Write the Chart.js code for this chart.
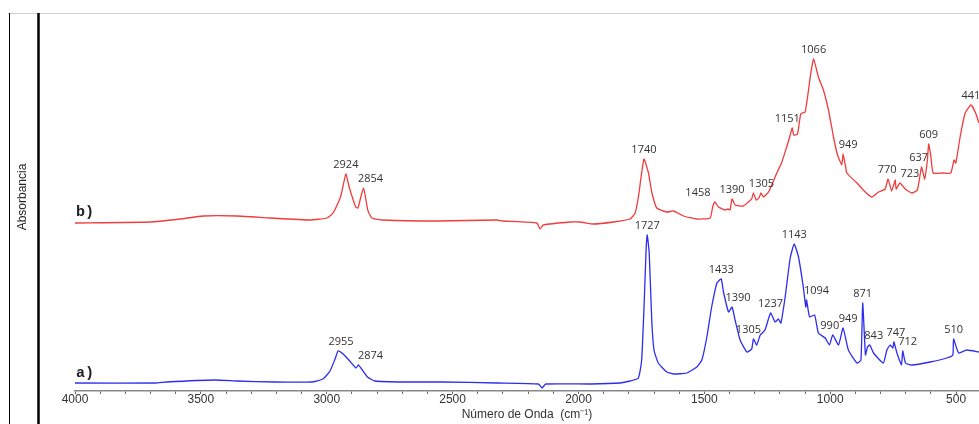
<!DOCTYPE html>
<html>
<head>
<meta charset="utf-8">
<script src="https://cdn.jsdelivr.net/npm/chart.js@4.4.1/dist/chart.umd.min.js"></script>
<style>
  html, body { margin: 0; padding: 0; background: #fff; }
  #wrap { width: 979px; height: 424px; }
</style>
</head>
<body>
<div id="wrap"><canvas id="myChart" width="979" height="424"></canvas></div>
<script>
// spectrum b) (red, upper trace) - wavenumber / absorbance (arbitrary, offset)
const wnB = [4000,3702,3583,3491,3356,3225,3066,2999,2975,2950,2941,2924,2911,2885,2876,2854,2837,2821,2776,2563,2325,2300,2166,2153,2140,2033,1994,1941,1861,1795,1775,1762,1740,1722,1709,1689,1649,1623,1583,1530,1477,1467,1458,1444,1418,1405,1398,1390,1378,1345,1325,1312,1305,1294,1283,1275,1265,1245,1212,1192,1173,1162,1151,1145,1130,1117,1100,1090,1077,1066,1047,1027,1007,987,971,954,949,940,934,894,861,835,808,782,770,756,742,738,723,702,676,654,643,637,625,614,609,600,591,553,521,508,501,484,464,441,424,409];
const absB = [1.68,1.69,1.72,1.75,1.75,1.73,1.71,1.73,1.78,1.91,1.98,2.17,2.04,1.84,1.83,2.03,1.81,1.73,1.71,1.70,1.71,1.70,1.68,1.62,1.66,1.69,1.69,1.67,1.69,1.72,1.78,1.94,2.32,2.18,1.99,1.83,1.79,1.80,1.75,1.72,1.73,1.84,1.89,1.84,1.81,1.82,1.81,1.92,1.86,1.85,1.89,1.92,1.98,1.91,1.93,1.98,1.94,1.99,2.18,2.29,2.44,2.53,2.63,2.56,2.57,2.77,2.79,2.94,3.18,3.32,3.14,3.01,2.81,2.54,2.36,2.26,2.37,2.26,2.18,2.08,1.99,1.94,1.99,2.02,2.12,2.00,2.11,2.02,2.08,2.02,1.98,2.01,2.16,2.24,2.12,2.31,2.47,2.34,2.18,2.18,2.18,2.31,2.28,2.54,2.78,2.86,2.79,2.68];
const peaksB = ['2924','2854','1740','1458','1390','1305','1151','1066','949','770','723','637','609','441'];

// spectrum a) (blue, lower trace)
const wnA = [4000,3680,3636,3444,3356,3207,3060,3015,2987,2967,2955,2935,2912,2884,2874,2838,2809,2690,2543,2322,2159,2145,2130,1952,1835,1795,1762,1749,1739,1731,1727,1719,1709,1700,1683,1649,1623,1570,1530,1510,1490,1471,1450,1433,1424,1404,1390,1378,1358,1331,1312,1305,1292,1278,1259,1237,1219,1206,1196,1179,1159,1143,1126,1107,1097,1094,1082,1062,1047,1020,1003,990,967,949,928,894,878,871,860,852,843,828,789,775,762,751,747,735,717,712,701,676,603,537,513,510,490,458,409];
const absA = [0.08,0.08,0.09,0.11,0.10,0.09,0.09,0.12,0.20,0.32,0.40,0.37,0.31,0.23,0.26,0.14,0.10,0.09,0.09,0.08,0.07,0.03,0.07,0.07,0.08,0.10,0.13,0.31,0.88,1.44,1.56,1.38,0.71,0.41,0.28,0.19,0.17,0.18,0.24,0.31,0.54,0.84,1.08,1.12,0.99,0.79,0.84,0.71,0.51,0.39,0.42,0.52,0.46,0.56,0.61,0.78,0.69,0.72,0.68,0.94,1.33,1.47,1.34,1.04,0.84,0.91,0.74,0.76,0.58,0.53,0.46,0.56,0.46,0.63,0.41,0.28,0.31,0.88,0.36,0.44,0.46,0.38,0.28,0.41,0.46,0.43,0.49,0.38,0.26,0.40,0.28,0.26,0.29,0.33,0.36,0.52,0.38,0.41,0.39];
const peaksA = ['2955','2874','1727','1433','1390','1305','1237','1143','1094','990','949','871','843','747','712','510'];

const xTicks = [4000, 3500, 3000, 2500, 2000, 1500, 1000, 500];

const toPts = (xs, ys) => xs.map((x, i) => ({x: x, y: ys[i]}));

// label nudges (px) so the numbers sit like in the original
const nudgeB = {'2854': 7, '1458': -17, '1305': 8, '1151': -5, '949': 5, '770': -1, '723': 10, '637': -3};
const nudgeA = {'2955': 3, '2874': 12, '1390': 6, '1305': -5, '1094': 10, '990': -3, '949': 5, '843': 4, '747': 2, '712': 5};

const frame = {
    id: 'frame',
    beforeDraw(chart) {
        const c = chart.ctx;
        c.save();
        c.fillStyle = '#fff';
        c.fillRect(0, 0, chart.width, chart.height);
        c.strokeStyle = '#d0d0d0';
        c.lineWidth = 1;
        c.beginPath(); c.moveTo(8, 13.5); c.lineTo(chart.width, 13.5); c.stroke();
        c.strokeStyle = '#000';
        c.lineWidth = 1;
        c.beginPath(); c.moveTo(9.5, 13); c.lineTo(9.5, chart.height); c.stroke();
        c.lineWidth = 2.5;
        c.beginPath(); c.moveTo(38.5, 13); c.lineTo(38.5, chart.height); c.stroke();
        c.translate(23, 197);
        c.rotate(-Math.PI / 2);
        c.fillStyle = '#222';
        c.font = '12px "Liberation Sans", Arial, sans-serif';
        c.textAlign = 'center';
        c.textBaseline = 'middle';
        c.fillText('Absorbancia', 0, 0);
        c.restore();
    },
    afterDatasetsDraw(chart) {
        const c = chart.ctx;
        const xs = chart.scales.x, ys = chart.scales.y;
        c.save();
        c.fillStyle = '#333';
        c.textAlign = 'center';
        c.textBaseline = 'middle';
        c.font = '11px "Open Sans", "Noto Sans", sans-serif';
        const sets = [[wnB, absB, peaksB, nudgeB], [wnA, absA, peaksA, nudgeA]];
        sets.forEach(([wn, ab, pk, nd]) => {
            pk.forEach(t => {
                const i = wn.indexOf(Number(t));
                if (i < 0) return;
                const px = xs.getPixelForValue(wn[i]) + (nd[t] || 0);
                const py = ys.getPixelForValue(ab[i]) - 9;
                c.fillText(t, px, py);
            });
        });
        // trace tags
        c.font = 'bold 15px "Liberation Mono", "Courier New", monospace';
        c.textAlign = 'left';
        c.fillStyle = '#222';
        c.fillText('b)', xs.left + 1, ys.getPixelForValue(absB[0]) - 11);
        c.fillText('a)', xs.left + 1, ys.getPixelForValue(absA[0]) - 10);
        c.restore();
    }
};

const ctx = document.getElementById('myChart').getContext('2d');
const myChart = new Chart(ctx, {
    type: 'line',
    data: {
        datasets: [{
            label: 'b)',
            data: toPts(wnB, absB),
            borderColor: 'rgb(240,60,60)',
            borderWidth: 1.3,
            pointRadius: 0,
            tension: 0.15
        }, {
            label: 'a)',
            data: toPts(wnA, absA),
            borderColor: 'rgb(45,45,240)',
            borderWidth: 1.3,
            pointRadius: 0,
            tension: 0.15
        }]
    },
    plugins: [frame],
    options: {
        responsive: false,
        animation: false,
        layout: { padding: { left: 75, right: 0, top: 13, bottom: 0 } },
        plugins: {
            legend: { display: false },
            tooltip: { enabled: false }
        },
        scales: {
            x: {
                type: 'linear',
                reverse: true,
                min: 409,
                max: 4000,
                afterFit: s => { s.height = 33; },
                afterBuildTicks: s => {
                    const t = [];
                    for (let v = 4000; v >= 500; v -= 100) t.push({value: v});
                    s.ticks = t;
                },
                ticks: {
                    autoSkip: false,
                    maxRotation: 0,
                    padding: -2,
                    color: '#333',
                    font: { family: '"Liberation Sans", Arial, sans-serif', size: 12 },
                    callback: v => xTicks.includes(v) ? String(v) : ''
                },
                grid: {
                    drawOnChartArea: false,
                    drawTicks: true,
                    tickLength: 3,
                    tickColor: '#666'
                },
                border: { color: '#888', width: 1.5 },
                title: {
                    display: true,
                    text: 'Número de Onda  (cm⁻¹)',
                    color: '#333',
                    padding: { top: 0, bottom: 2 },
                    font: { family: '"Liberation Sans", Arial, sans-serif', size: 12 }
                }
            },
            y: {
                display: false,
                min: 0,
                max: 3.78
            }
        }
    }
});
</script>
</body>
</html>
